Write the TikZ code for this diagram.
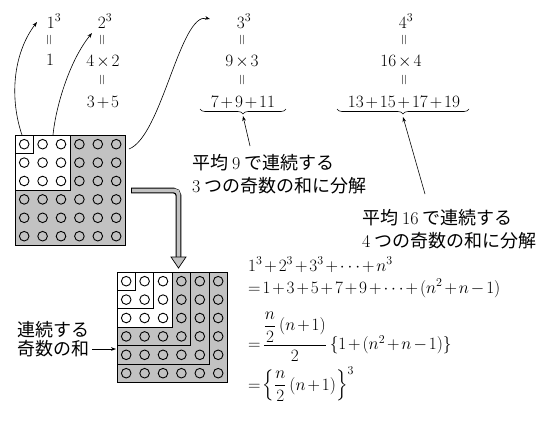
\documentclass[tikz,border=0pt]{standalone}
\usepackage{amsmath}
\usepackage{fontspec}
\newfontfamily\jp{Noto Sans CJK JP}
\usetikzlibrary{arrows.meta,decorations.pathreplacing}
\definecolor{stip}{gray}{0.76}
\medmuskip=2mu
\thickmuskip=2mu
\newcommand{\jgap}{\hspace{4pt}}
\begin{document}
\begin{tikzpicture}[x=1pt,y=-1pt,
  every node/.style={inner sep=0pt,font=\fontsize{18}{22}\selectfont},
  lbl/.style={anchor=base},
  eqbar/.style={rotate=90,font=\fontsize{14}{14}\selectfont},
  jtext/.style={anchor=base west},
  ptr/.style={-{Stealth[length=5pt,width=3.6pt]},line width=0.6pt},
  gline/.style={line width=0.8pt},
  thinline/.style={line width=0.6pt},
  dot/.style={line width=0.9pt},
  brc/.style={decorate,decoration={brace,amplitude=5pt,mirror},line width=0.6pt},
  formula/.style={anchor=base west}]
\useasboundingbox (0,0) rectangle (554,424);

% ---- top labels ----
\node[lbl] (c1) at (54,28) {$1^3$};
\node[eqbar] (e1a) at (50,40) {$=$};
\node[lbl] (p1) at (50,65) {$1$};

\node[lbl] (c2) at (105,28) {$2^3$};
\node[eqbar] (e2a) at (103,40) {$=$};
\node[lbl] (p2) at (103,66) {$4\times2$};
\node[eqbar] (e2b) at (103,80) {$=$};
\node[lbl] (s2) at (103,107) {$3+5$};

\node[lbl] (c3) at (244,28) {$3^3$};
\node[eqbar] (e3a) at (243,40) {$=$};
\node[lbl] (p3) at (242,66) {$9\times3$};
\node[eqbar] (e3b) at (243,80) {$=$};
\node[lbl] (s3) at (243,107) {$7+9+11$};

\node[lbl] (c4) at (406,28) {$4^3$};
\node[eqbar] (e4a) at (405,40) {$=$};
\node[lbl] (p4) at (401,66) {$16\times4$};
\node[eqbar] (e4b) at (405,80) {$=$};
\node[lbl] (s4) at (404,107) {$13+15+17+19$};

% braces
\coordinate (b1l) at (200,109);
\coordinate (b1r) at (286,109);
\coordinate (b1tip) at (243,116);
\coordinate (b2l) at (337,109);
\coordinate (b2r) at (469,109);
\coordinate (b2tip) at (403,117);
\draw[brc] (b1l) -- (b1r);
\draw[brc] (b2l) -- (b2r);

% explanatory texts
\node[jtext] (t1a) at (192,169) {{\jp 平均}\jgap9\jgap{\jp で連続する}};
\node[jtext] (t1b) at (192,192) {3\jgap{\jp つの奇数の和に分解}};
\node[jtext] (t2a) at (362,224) {{\jp 平均}\jgap16\jgap{\jp で連続する}};
\node[jtext] (t2b) at (362,247) {4\jgap{\jp つの奇数の和に分解}};
\coordinate (q1) at (250,146);
\coordinate (q2) at (425,194);
\draw[ptr] (q1) -- (b1tip);
\draw[ptr] (q2) -- (b2tip);

% ---- top grid ----
\fill[stip] (15,135) rectangle ++(110.4,110.4);
\fill[white] (15,135) rectangle ++(55.2,55.2);
\foreach \i in {0,...,5} \foreach \j in {0,...,5}
  \draw[dot] ({15+18.4*(\i+0.5)},{135+18.4*(\j+0.5)}) circle[radius=4.8pt];
\draw[gline] (15,135) rectangle ++(18.4,18.4);
\draw[gline] (15,135) rectangle ++(55.2,55.2);
\draw[gline] (15,135) rectangle ++(110.4,110.4);
\coordinate (g1) at (22,135);
\coordinate (g2) at (53,135);
\coordinate (g3) at (129,149);

% curved arrows to cubes
\coordinate (a1) at (37,22);
\coordinate (a2) at (92,33);
\coordinate (a3) at (210,19);
\draw[ptr] (g1) .. controls (10,100) and (12,55) .. (a1);
\draw[ptr] (g2) .. controls (56,105) and (70,60) .. (a2);
\draw[ptr] (g3) .. controls (162,136) and (180,12) .. (a3);

% ---- hollow arrow ----
\coordinate (h0) at (131,190.5);
\coordinate (h1) at (178.5,258);
\draw[line width=5.6pt,rounded corners=5pt] (h0) -| (h1);
\draw[line width=3.8pt,stip,rounded corners=4pt] ([xshift=1pt]h0) -| ([yshift=1pt]h1);
\filldraw[fill=stip,draw=black,line width=0.7pt] (171,257) -- (186,257) -- (178.5,268) -- cycle;

% ---- bottom grid ----
\fill[stip] (117,272) rectangle ++(110.4,110.4);
\fill[white] (117,272) rectangle ++(55.2,55.2);
\foreach \i in {0,...,5} \foreach \j in {0,...,5}
  \draw[dot] ({117+18.4*(\i+0.5)},{272+18.4*(\j+0.5)}) circle[radius=4.8pt];
\draw[gline] (117,272) rectangle ++(18.4,18.4);
\draw[gline] (153.8,272) -- (153.8,308.8) -- (117,308.8);
\draw[gline] (172.2,272) -- (172.2,327.2) -- (117,327.2);
\draw[thinline] (190.6,272) -- (190.6,345.6) -- (117,345.6);
\draw[thinline] (209,272) -- (209,364) -- (117,364);
\draw[gline] (117,272) rectangle ++(110.4,110.4);

% left label
\node[jtext] (l1) at (17,336) {\jp 連続する};
\node[jtext] (l2) at (17,355) {\jp 奇数の和};
\coordinate (l2end) at (92,349);
\coordinate (gridin) at (116,349);
\draw[ptr] (l2end) -- (gridin);

% ---- formulas ----
\node[formula] (f1) at (248,271) {$1^3+2^3+3^3+\cdots+n^3$};
\node[formula] (f2) at (248,293) {$=1+3+5+7+9+\cdots+(n^2+n-1)$};
\node[formula] (f3) at (248,349.5) {$=\dfrac{\rule[-5pt]{0pt}{5pt}\dfrac{n}{2}\,(n+1)}{2}\,\{1+(n^2+n-1)\}$};
\node[formula] (f4) at (248,390) {$=\left\{\dfrac{n}{2}\,(n+1)\right\}^3$};
\end{tikzpicture}
\end{document}
